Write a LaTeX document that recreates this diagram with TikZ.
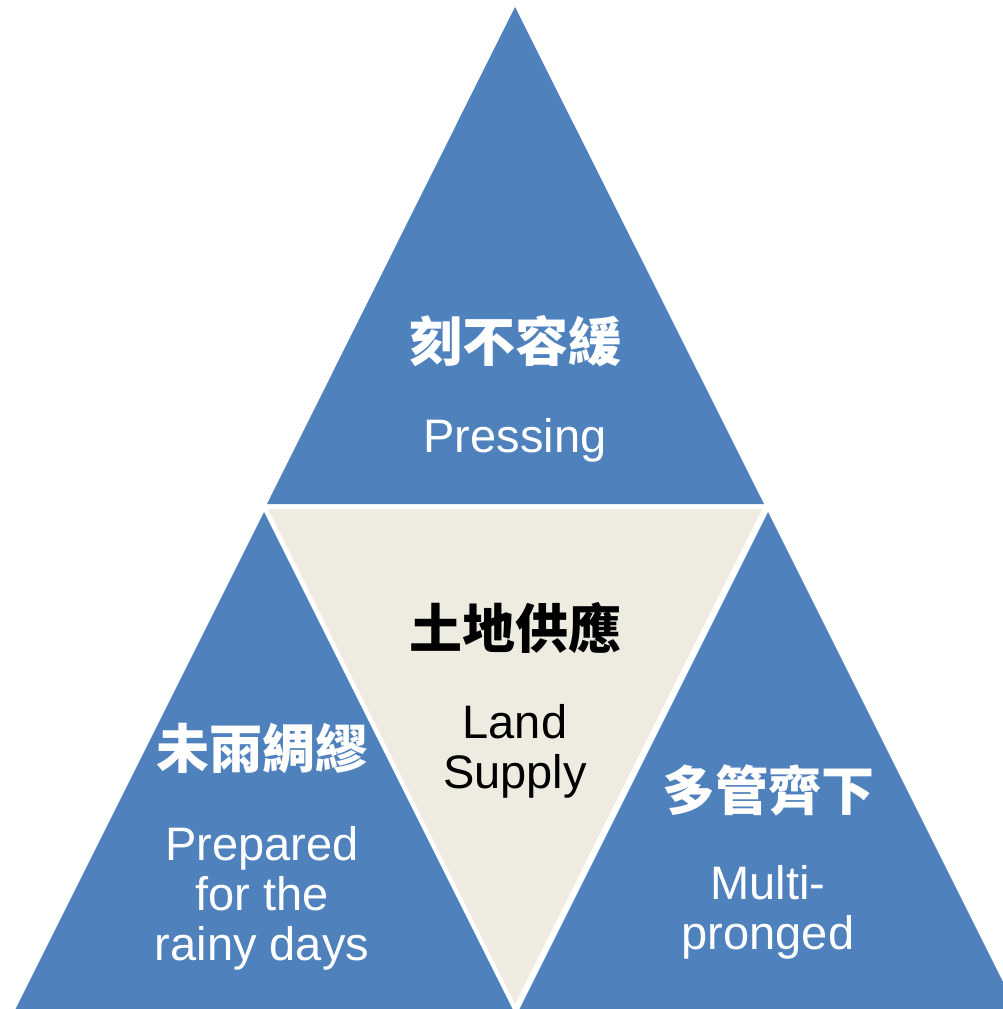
\documentclass[tikz,border=0pt]{standalone}
\usepackage{fontspec}
\setmainfont{Liberation Sans}
\newfontfamily\cjk{Noto Sans CJK TC}
\definecolor{triblue}{HTML}{4F81BD}
\definecolor{landbg}{HTML}{EEECE1}

\begin{document}
\begin{tikzpicture}[x=1pt,y=-1pt,
  tri/.style={fill=triblue},
  zh/.style={font=\cjk\bfseries\fontsize{53}{60}\selectfont,inner sep=0pt},
  en/.style={font=\fontsize{47}{50}\selectfont,align=center,inner sep=0pt}]
  \useasboundingbox (0,0) rectangle (1003,1009);
  \clip (0,0) rectangle (1003,1009);
  \fill[tri] (515,7) -- (764,504) -- (267,504) -- cycle;
  \fill[tri] (264,512) -- (513,1010) -- (15,1010) -- cycle;
  \fill[tri] (768,512) -- (1017,1010) -- (519,1010) -- cycle;
  \fill[landbg] (268,509) -- (762,509) -- (515,1004) -- cycle;
  \node [zh,text=white] (pz) at (515,341) {刻不容緩};
  \node [en,text=white] (pe) at (515,440) {Pressing};
  \node [zh,text=black] (lz) at (515,628) {土地供應};
  \node [en,text=black] (le) at (515,751) {Land\\Supply};
  \node [zh,text=white] (rz) at (262,748) {未雨綢繆};
  \node [en,text=white] (re) at (262,898) {Prepared\\for the\\rainy days};
  \node [zh,text=white] (mz) at (768,790) {多管齊下};
  \node [en,text=white] (me) at (768,912) {Multi-\\pronged};
\end{tikzpicture}
\end{document}
